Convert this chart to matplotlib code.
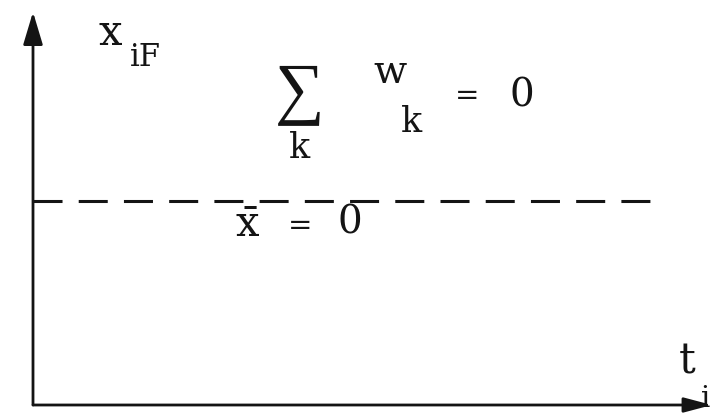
import matplotlib
matplotlib.use("Agg")
import matplotlib.pyplot as plt

# figure size in pixels
W, H = 718, 413

# diagram content
xbar = 0            # mean level, drawn as the dashed line
sum_w = 0           # sum of the weights
y_label = ("x", "iF")
x_label = ("t", "i")
dash_end = 0.9087   # dashed line stops short of the arrow

ink = "#141414"
serif = ["DejaVu Serif"]

plt.rcParams["mathtext.fontset"] = "custom"
plt.rcParams["mathtext.rm"] = "DejaVu Serif"

fig = plt.figure(figsize=(W / 100, H / 100), dpi=100)
fig.patch.set_facecolor("white")

# axes frame: origin at (33, 405) px, tips at x=712 and y=12
left, bottom, right, top = 33, 405, 712, 12
ax = fig.add_axes([left / W, 1 - bottom / H, (right - left) / W, (bottom - top) / H])
ax.set_xlim(0, 1)
# put xbar at 204 px above the time axis
ax.set_ylim(xbar - 1, xbar + (bottom - top - 204) / 204)
ax.axis("off")

# axis arrows
ax.annotate("", xy=(0, 1), xytext=(0, 0), xycoords="axes fraction",
            arrowprops=dict(arrowstyle="-|>,head_length=2.0,head_width=0.6",
                            color=ink, lw=2.0, shrinkA=0, shrinkB=0))
ax.annotate("", xy=(1, 0), xytext=(0, 0), xycoords="axes fraction",
            arrowprops=dict(arrowstyle="-|>,head_length=1.7,head_width=0.45",
                            color=ink, lw=2.0, shrinkA=0, shrinkB=0))

# dashed mean line (14 whole dashes)
ax.axhline(xbar, xmin=0, xmax=dash_end, color=ink, lw=2.2, ls=(0, (9.5, 5.3)))


def px_text(x, y, s, size, ha="center", va="baseline", family=serif, **kw):
    fig.text(x / W, 1 - y / H, s, fontsize=size, ha=ha, va=va, color=ink,
             family=family, **kw)


# axis labels
px_text(110, 45, y_label[0], 30)
px_text(130, 66, y_label[1], 22, ha="left")
px_text(687, 373, x_label[0], 30)
px_text(706, 407, x_label[1], 21)

# sum of weights
px_text(300, 93, "\u2211", 50, va="center", family=["Liberation Serif", "DejaVu Sans"])
px_text(300, 158, "k", 25)
px_text(390, 83, "w", 28)
px_text(411, 132, "k", 25)
px_text(467, 96, "=", 21, va="center")
px_text(522, 96, str(sum_w), 28, va="center")

# mean label
px_text(247, 237, r"$\bar{\mathrm{x}}$", 30)
px_text(300, 226, "=", 21, va="center")
px_text(350, 223, str(xbar), 28, va="center")

fig.savefig("out.png", dpi=100, facecolor="white")
